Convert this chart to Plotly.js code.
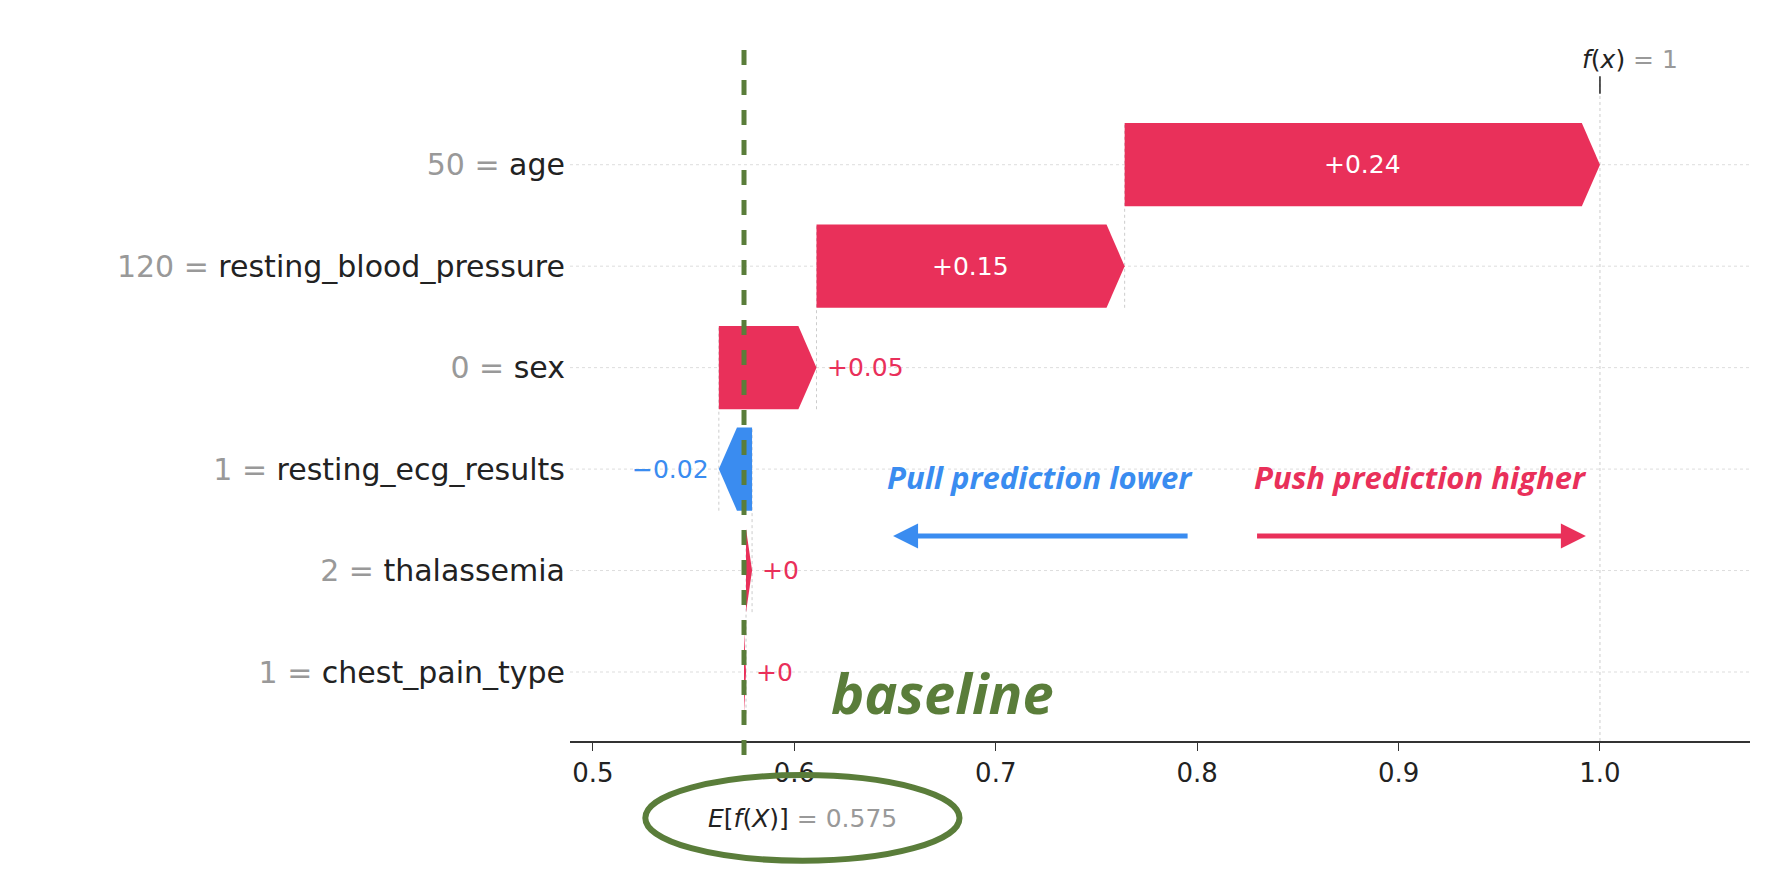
<!DOCTYPE html>
<html>
<head>
<script src="https://cdn.plot.ly/plotly-3.0.1.min.js"></script>
<style>body{margin:0;background:#fff}</style>
</head>
<body>
<div id="plot" style="width:1780px;height:884px"></div>
<script>
// Feature rows, bottom to top
var features = ["chest_pain_type", "thalassemia", "resting_ecg_results", "sex", "resting_blood_pressure", "age"];
var featureValues = ["1", "2", "1", "0", "120", "50"];
var shapValues = [0.001, 0.003, -0.0165, 0.0485, 0.153, 0.236];
var shapLabels = ["+0", "+0", "\u22120.02", "+0.05", "+0.15", "+0.24"];
var baseValue = 0.575;
var xTicks = [0.5, 0.6, 0.7, 0.8, 0.9, 1.0];

var red = "#e9305a", blue = "#3a8cf0", green = "#5a7d3a";
var half = 0.41;

var traces = [];
var annotations = [];
var shapes = [];
var cum = baseValue;
var ends = [];

for (var i = 0; i < features.length; i++) {
    var v = shapValues[i];
    var start = cum, end = cum + v;
    cum = end;
    ends.push(end);
    var dir = v >= 0 ? 1 : -1;
    var head = Math.min(Math.abs(v), 0.009) * dir;
    var xs = [start, end - head, end, end - head, start, start];
    var ys = [i - half, i - half, i, i + half, i + half, i - half];
    traces.push({
        type: "scatter", mode: "lines", x: xs, y: ys, fill: "toself",
        fillcolor: v >= 0 ? red : blue, line: {width: 0}, hoverinfo: "skip", showlegend: false
    });
    var inside = Math.abs(v) > 0.1;
    annotations.push({
        x: inside ? (start + end) / 2 : end, y: i, xref: "x", yref: "y",
        text: shapLabels[i], showarrow: false,
        xanchor: inside ? "center" : (dir > 0 ? "left" : "right"),
        xshift: inside ? 0 : dir * 8,
        font: {size: 25, color: inside ? "#fff" : (v >= 0 ? red : blue)}
    });
    // dotted row line
    shapes.push({type: "line", xref: "paper", yref: "y", x0: 0, x1: 1, y0: i, y1: i,
        line: {color: "#dddddd", width: 1, dash: "dot"}, layer: "below"});
}
// connector dotted verticals at bar ends
for (var j = 0; j < ends.length - 1; j++) {
    shapes.push({type: "line", xref: "x", yref: "y", x0: ends[j], x1: ends[j],
        y0: j - half, y1: j + 1 + half, line: {color: "#cccccc", width: 1, dash: "dot"}, layer: "below"});
}
// f(x) vertical line
shapes.push({type: "line", xref: "x", yref: "paper", x0: cum, x1: cum, y0: 0, y1: 0.95,
    line: {color: "#cccccc", width: 1, dash: "dot"}, layer: "below"});
shapes.push({type: "line", xref: "x", yref: "paper", x0: cum, x1: cum, y0: 0.93, y1: 0.955,
    line: {color: "#222", width: 1.5}});
// baseline dashed
shapes.push({type: "line", xref: "x", yref: "paper", x0: baseValue, x1: baseValue, y0: -0.02, y1: 1,
    line: {color: green, width: 5, dash: "dash"}});
// ellipse
shapes.push({type: "circle", xref: "x", yref: "paper", x0: 0.526, x1: 0.682, y0: -0.172, y1: -0.049,
    line: {color: green, width: 6}});

var tickText = features.map(function(f, k) {
    return '<span style="color:#999">' + featureValues[k] + ' = </span>' + f;
});

annotations.push(
    {x: 0.722, y: 1.92, text: "<b><i>Pull prediction lower</i></b>", showarrow: false, font: {size: 31, color: blue, family: "Open Sans"}},
    {x: 0.911, y: 1.92, text: "<b><i>Push prediction higher</i></b>", showarrow: false, font: {size: 31, color: red, family: "Open Sans"}},
    {x: 0.649, y: 1.34, ax: 0.796, ay: 1.34, axref: "x", ayref: "y", xref: "x", yref: "y", text: "",
        showarrow: true, arrowhead: 2, arrowsize: 1, arrowwidth: 5, arrowcolor: blue},
    {x: 0.993, y: 1.34, ax: 0.829, ay: 1.34, axref: "x", ayref: "y", xref: "x", yref: "y", text: "",
        showarrow: true, arrowhead: 2, arrowsize: 1, arrowwidth: 5, arrowcolor: red},
    {x: 0.617, y: -0.2, xanchor: "left", text: "<b><i>baseline</i></b>", showarrow: false,
        font: {size: 56, color: green, family: "Open Sans"}},
    {x: 0.604, y: -0.112, xref: "x", yref: "paper", yanchor: "middle", text: '<i>E</i>[<i>f</i>(<i>X</i>)] <span style="color:#999">= ' + baseValue + '</span>',
        showarrow: false, font: {size: 25, color: "#222"}},
    {x: cum, y: 0.955, xref: "x", yref: "paper", xanchor: "center", yanchor: "bottom", xshift: 30,
        text: '<i>f</i>(<i>x</i>) <span style="color:#999">= 1</span>',
        showarrow: false, font: {size: 25, color: "#222"}}
);

var layout = {
    width: 1780, height: 884,
    margin: {l: 570, r: 30, t: 45, b: 143},
    paper_bgcolor: "#fff", plot_bgcolor: "#fff",
    font: {family: "DejaVu Sans", color: "#222"},
    xaxis: {range: [0.4886, 1.0745], tickvals: xTicks, ticktext: xTicks.map(function(t){return t.toFixed(1);}),
        showgrid: false, zeroline: false, showline: true, linecolor: "#333", linewidth: 2,
        ticks: "outside", ticklen: 8, tickcolor: "#333", tickfont: {size: 26}},
    yaxis: {range: [-0.68, 6.18], tickvals: [0, 1, 2, 3, 4, 5], ticktext: tickText,
        showgrid: false, zeroline: false, showline: false, ticks: "", tickfont: {size: 30, color: "#222"}, ticklabelstandoff: 4},
    shapes: shapes, annotations: annotations, showlegend: false
};

Plotly.newPlot("plot", traces, layout, {staticPlot: true});
</script>
</body>
</html>
